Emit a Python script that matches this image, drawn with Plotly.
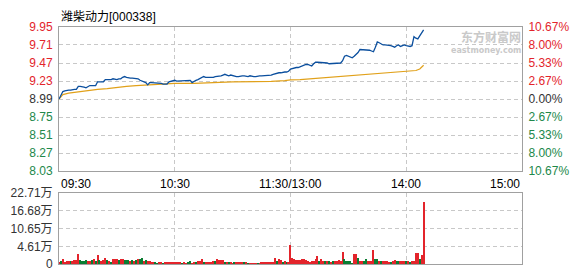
import plotly.graph_objects as go

W, H = 578, 276

title_text = "潍柴动力[000338]"
prev_close = 8.99

# price per trading minute (0 = 09:30, 120 = 13:00)
price = [8.99, 9.05, 9.09, 9.10, 9.11, 9.11, 9.11, 9.12, 9.12, 9.12,
         9.16, 9.16, 9.16, 9.15, 9.14, 9.16, 9.17, 9.17, 9.17, 9.17,
         9.22, 9.22, 9.22, 9.22, 9.25, 9.25, 9.24, 9.25, 9.26, 9.25,
         9.25, 9.26, 9.26, 9.28, 9.29, 9.28, 9.27, 9.27, 9.27, 9.27,
         9.27, 9.26, 9.24, 9.23, 9.22, 9.21, 9.18, 9.21, 9.21, 9.21,
         9.21, 9.20, 9.20, 9.20, 9.19, 9.19, 9.19, 9.22, 9.23, 9.23,
         9.24, 9.23, 9.23, 9.24, 9.24, 9.23, 9.24, 9.24, 9.24, 9.21,
         9.23, 9.24, 9.25, 9.26, 9.27, 9.29, 9.28, 9.28, 9.28, 9.27,
         9.28, 9.29, 9.29, 9.29, 9.30, 9.31, 9.32, 9.31, 9.30, 9.31,
         9.30, 9.30, 9.29, 9.29, 9.30, 9.30, 9.30, 9.29, 9.29, 9.30,
         9.29, 9.29, 9.29, 9.30, 9.30, 9.30, 9.30, 9.30, 9.30, 9.30,
         9.31, 9.32, 9.33, 9.34, 9.34, 9.34, 9.35, 9.35, 9.35, 9.36,
         9.39, 9.40, 9.41, 9.41, 9.41, 9.42, 9.44, 9.45, 9.45, 9.45,
         9.44, 9.43, 9.46, 9.48, 9.48, 9.48, 9.48, 9.48, 9.48, 9.47,
         9.46, 9.46, 9.46, 9.46, 9.46, 9.46, 9.47, 9.50, 9.56, 9.57,
         9.56, 9.56, 9.54, 9.56, 9.58, 9.61, 9.65, 9.65, 9.64, 9.64,
         9.64, 9.64, 9.63, 9.62, 9.68, 9.75, 9.74, 9.72, 9.71, 9.71,
         9.71, 9.70, 9.70, 9.69, 9.68, 9.70, 9.71, 9.69, 9.70, 9.71,
         9.70, 9.69, 9.69, 9.70, 9.82, 9.80, 9.79, 9.83, 9.87, 9.91]
minutes = list(range(len(price)))

avg_minutes = [0, 2, 5, 10, 15, 20, 25, 30, 35, 40, 45, 50, 55, 60, 70, 75, 80,
               90, 100, 110, 117, 120, 125, 130, 140, 150, 160, 170, 180, 185, 187, 189]
avg_price = [8.99, 9.05, 9.07, 9.09, 9.11, 9.12, 9.13, 9.15, 9.16, 9.17, 9.18, 9.19,
             9.20, 9.20, 9.20, 9.21, 9.21, 9.22, 9.22, 9.225, 9.235, 9.245, 9.25,
             9.26, 9.28, 9.30, 9.32, 9.34, 9.36, 9.37, 9.39, 9.44]

# volume (display units of the volume axis) per minute, r = up, g = down
volume = [0.81, 1.01, 1.62, 0.81, 1.01, 1.11, 1.01, 1.11, 1.31, 1.31,
          3.33, 1.31, 1.01, 1.01, 1.31, 1.01, 1.01, 1.31, 1.52, 1.01,
          3.03, 1.31, 1.11, 1.31, 2.12, 1.31, 1.01, 0.81, 1.62, 1.62,
          1.62, 1.31, 1.62, 1.62, 1.31, 1.31, 1.31, 1.01, 1.31, 1.11,
          1.31, 1.52, 1.62, 1.92, 1.01, 1.31, 1.01, 1.01, 0.81, 0.61,
          0.61, 0.40, 0.61, 0.61, 0.40, 0.61, 0.61, 0.81, 0.61, 0.61,
          0.61, 0.61,
          0.61, 0.61, 0.40, 0.61, 0.40, 0.61, 0.91, 0.40, 0.61, 0.61,
          1.11, 1.11, 1.62, 0.61, 0.61, 0.61, 0.61, 0.61, 0.91, 1.11,
          1.62, 1.31, 1.31, 1.31, 0.61, 0.61, 0.61, 0.61, 0.40, 0.61,
          0.61, 0.61, 0.61, 0.61, 0.61, 0.61, 0.40, 0.40, 0.40, 0.40,
          0.40, 0.40, 0.40, 0.61, 0.61, 0.61, 0.81, 0.61, 0.61, 0.61,
          1.82, 1.11, 1.52, 1.31, 0.61, 1.11, 0.61, 0.61,
          6.16, 2.12, 1.62, 1.31,
          1.31, 1.31, 1.62, 1.62, 1.31, 0.91, 0.61, 0.91, 1.11, 1.62,
          2.53, 0.91, 1.52, 1.11, 1.11, 0.91, 0.91, 0.81, 0.91, 1.11,
          0.91, 1.31, 0.91, 4.04, 1.52, 0.91, 0.91, 0.91, 0.50, 3.13,
          3.13, 1.82, 1.11, 0.91, 0.91, 1.52, 0.91, 0.91, 0.91, 4.65,
          1.62, 1.62, 0.91, 0.91, 0.91, 0.91, 0.91, 0.61, 0.61, 0.91,
          1.31, 0.91, 0.91, 0.91, 0.91, 0.91, 0.91, 0.91, 0.61, 0.91,
          0.91, 3.64, 3.50, 1.60, 2.90, 19.9]
volume_dir = ("rgrrrrgrrr" "rggggrrgrg" "rgrrrgrgrr" "rgrrgggrgr" "grggrgrrrr" "ggrrgrrrrr"
              "rr"
              "rrgrrggrrg" "rrrgrrrrrg" "rrrrgrgrrg" "rrrrgrgrrr" "rgrrrrrrrr" "rgrrgrgr"
              "rrrr"
              "rrrrrrrrrr" "rgrrgrgrgr" "rrrrgggggr" "rgrrggrrrr" "ggrgrrrrgr" "rggrrrgrgr"
              "rrrgrr")

price_ticks = [9.95, 9.71, 9.47, 9.23, 8.99, 8.75, 8.51, 8.27, 8.03]
price_tick_labels = ["9.95", "9.71", "9.47", "9.23", "8.99", "8.75", "8.51", "8.27", "8.03"]
pct_tick_labels = ["10.67%", "8.00%", "5.33%", "2.67%", "0.00%", "2.67%", "5.33%", "8.00%", "10.67%"]
vol_ticks = [0, 5.6775, 11.355, 17.0325, 22.71]
vol_tick_labels = ["0", "4.61万", "10.65万", "16.68万", "22.71万"]
time_ticks = [0, 60, 120, 180, 240]
time_labels = ["09:30", "10:30", "11:30/13:00", "14:00", "15:00"]

RED = "#e3242b"
GREEN = "#21884a"
DARK = "#333333"
BORDER = "#a0a0a0"
GRID = "#c8c8c8"
FONT = "Liberation Sans, Noto Sans CJK SC, sans-serif"


def colored(label, val):
    c = RED if val > prev_close else (GREEN if val < prev_close else DARK)
    return f'<span style="color:{c}">{label}</span>'


price_text = [colored(l, v) for l, v in zip(price_tick_labels, price_ticks)]
pct_vals = [(v - prev_close) / prev_close * 100 for v in price_ticks]
pct_text = [colored(l, v) for l, v in zip(pct_tick_labels, price_ticks)]
pmin, pmax = min(price_ticks), max(price_ticks)
pct_range = [(pmin - prev_close) / prev_close * 100, (pmax - prev_close) / prev_close * 100]

x0, x1 = 59 / W, 522 / W
dom_price = [1 - 173 / H, 1 - 21 / H]
dom_vol = [1 - 271 / H, 1 - 196 / H]

fig = go.Figure()
fig.add_trace(go.Scatter(x=avg_minutes, y=avg_price, mode="lines",
                         line=dict(color="#e1a11a", width=1.2), xaxis="x", yaxis="y",
                         hoverinfo="skip"))
fig.add_trace(go.Scatter(x=minutes, y=price, mode="lines",
                         line=dict(color="#0b4f9e", width=1.3), xaxis="x", yaxis="y",
                         hoverinfo="skip"))
fig.add_trace(go.Scatter(x=[0], y=[0], mode="markers", marker=dict(opacity=0),
                         xaxis="x", yaxis="y2", hoverinfo="skip"))
fig.add_trace(go.Bar(x=minutes, y=volume, width=0.6,
                     marker=dict(color=[RED if d == "r" else "#0a7d32" for d in volume_dir],
                                 line=dict(width=0)),
                     xaxis="x2", yaxis="y3", hoverinfo="skip"))

axis_common = dict(showline=True, linecolor=BORDER, linewidth=1, mirror=True,
                   zeroline=False, gridcolor=GRID, griddash="4px,3px", gridwidth=1)

fig.update_layout(
    width=W, height=H, margin=dict(l=0, r=0, t=0, b=0),
    paper_bgcolor="white", plot_bgcolor="white", showlegend=False,
    font=dict(family=FONT, size=12, color=DARK),
    xaxis=dict(domain=[x0, x1], range=[0, 240], anchor="y", tickvals=time_ticks[1:-1],
               showticklabels=False, ticks="", **axis_common),
    yaxis=dict(domain=dom_price, range=[pmin, pmax], tickvals=price_ticks, ticktext=price_text,
               ticks="outside", ticklen=3, tickcolor="white", **axis_common),
    yaxis2=dict(overlaying="y", side="right", range=pct_range, tickvals=pct_vals,
                ticktext=pct_text, showgrid=False, zeroline=False, showline=False,
                ticks="outside", ticklen=3, tickcolor="white", anchor="x"),
    xaxis2=dict(domain=[x0, x1], range=[0, 240], anchor="y3", tickvals=time_ticks[1:-1],
                showticklabels=False, ticks="", **axis_common),
    yaxis3=dict(domain=dom_vol, range=[0, 22.71], tickvals=vol_ticks, ticktext=vol_tick_labels,
                ticks="outside", ticklen=3, tickcolor="white", **axis_common),
    bargap=0,
)

anchors = ["left", "center", "center", "center", "right"]
for t, lab, a in zip(time_ticks, time_labels, anchors):
    fig.add_annotation(x=t, y=1 - 186 / H, xref="x", yref="paper", text=lab, showarrow=False,
                       xanchor=a, yanchor="middle", font=dict(size=12, color="#000000"))

fig.add_annotation(x=x0, y=1 - 1 / H, xref="paper", yref="paper", text=title_text,
                   showarrow=False, xanchor="left", yanchor="top",
                   font=dict(size=12, color="#000000"))

fig.add_annotation(x=x1, y=1 - 21 / H, xref="paper", yref="paper", text="<b>东方财富网</b>",
                   showarrow=False, xanchor="right", yanchor="top", borderpad=0,
                   font=dict(size=12, color="#c9c9c9", family="Noto Sans CJK SC"))
fig.add_annotation(x=x1, y=1 - 40 / H, xref="paper", yref="paper", text="<b>eastmoney.com</b>",
                   showarrow=False, xanchor="right", yanchor="top", borderpad=0,
                   font=dict(size=8, color="#c9c9c9", family="DejaVu Sans"))

fig.write_html("out.html")
